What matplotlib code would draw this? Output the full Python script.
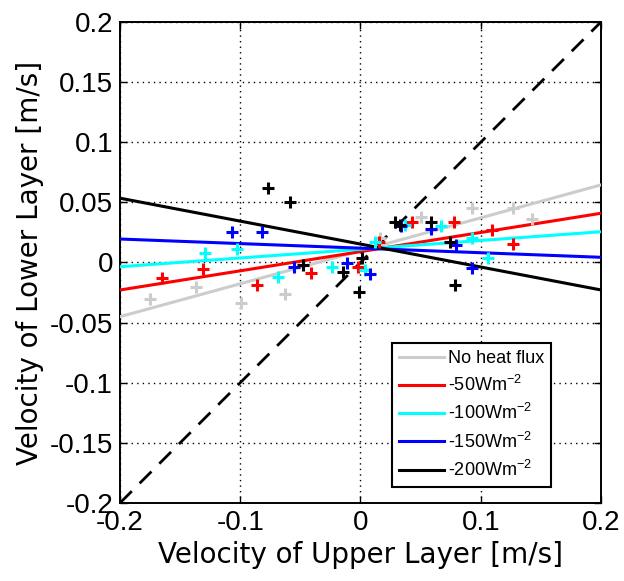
import numpy as np
import matplotlib
matplotlib.use("Agg")
from matplotlib import pyplot as plt

plt.rcParams['axes.unicode_minus'] = False
plt.rcParams['mathtext.default'] = 'regular'

# series names and colours
labels = ["No heat flux", "-50Wm$^{-2}$", "-100Wm$^{-2}$", "-150Wm$^{-2}$", "-200Wm$^{-2}$"]
colors = [(0.8, 0.8, 0.8), (1, 0, 0), (0, 1, 1), (0, 0, 1), (0, 0, 0)]

# measured velocities (upper layer, lower layer) for each run
u_none = [-0.175, -0.137, -0.099, -0.063, 0.016, 0.050, 0.0925, 0.127, 0.143]
v_none = [-0.030, -0.020, -0.034, -0.026, 0.0206, 0.038, 0.045, 0.045, 0.036]

u_50 = [-0.165, -0.131, -0.086, -0.041, -0.002, 0.0156, 0.043, 0.078, 0.109, 0.1266]
v_50 = [-0.013, -0.0054, -0.019, -0.009, -0.0035, 0.0173, 0.0334, 0.034, 0.027, 0.015]

u_100 = [-0.129, -0.103, -0.069, -0.024, 0.0037, 0.012, 0.037, 0.067, 0.0925, 0.106]
v_100 = [0.0076, 0.0112, -0.012, -0.0035, -0.0062, 0.0173, 0.031, 0.030, 0.020, 0.004]

u_150 = [-0.107, -0.082, -0.0556, -0.0115, 0.0079, 0.034, 0.0586, 0.0794, 0.093]
v_150 = [0.0256, 0.0256, -0.004, -0.0007, -0.0096, 0.030, 0.028, 0.0146, -0.0048]

u_200 = [-0.077, -0.059, -0.048, -0.0143, 0.001, -0.0012, 0.029, 0.033, 0.0586, 0.0744, 0.0786]
v_200 = [0.062, 0.050, -0.002, -0.0076, 0.0035, -0.0248, 0.034, 0.031, 0.034, 0.0168, -0.0187]

# linear fits: lower = slope * upper + intercept
slopes = [0.274, 0.1595, 0.0728, -0.038, -0.1908]
intercepts = [0.0097, 0.009, 0.011, 0.0119, 0.0153]

us = [u_none, u_50, u_100, u_150, u_200]
vs = [v_none, v_50, v_100, v_150, v_200]

fig = plt.figure(figsize=(6.24, 5.81), dpi=100)
ax = fig.add_axes([0.1923, 0.1343, 0.7708, 0.8279])

xfit = np.array([-0.2, 0.2])

# fit lines first, markers on top
handles = []
for k in range(len(labels)):
    h, = ax.plot(xfit, slopes[k] * xfit + intercepts[k], color=colors[k], lw=2.2, label=labels[k], zorder=3)
    handles.append(h)
for k in range(len(labels)):
    ax.plot(us[k], vs[k], '+', color=colors[k], ms=8, mew=2.2, zorder=4)

# one to one line
ax.plot(xfit, xfit, '--', color='k', lw=2, dashes=(6, 4), zorder=2)

ax.set_xlim(-0.2, 0.2)
ax.set_ylim(-0.2, 0.2)
ax.set_xticks([-0.2, -0.1, 0, 0.1, 0.2])
ax.set_xticklabels(["-0.2", "-0.1", "0", "0.1", "0.2"])
ax.set_yticks(np.arange(-0.2, 0.201, 0.05))
ax.set_yticklabels(["-0.2", "-0.15", "-0.1", "-0.05", "0", "0.05", "0.1", "0.15", "0.2"])

ax.grid(True, color='k', linestyle=(0, (1, 3)), linewidth=1)
ax.tick_params(direction='in', top=True, right=True, length=5, width=1, labelsize=20, pad=5)
for t in ax.get_xticklabels() + ax.get_yticklabels():
    t.set_family('Liberation Sans')
for s in ax.spines.values():
    s.set_linewidth(1.4)

ax.set_xlabel("Velocity of Upper Layer [m/s]", fontsize=20, family='DejaVu Sans', labelpad=4)
ax.set_ylabel("Velocity of Lower Layer [m/s]", fontsize=20, family='DejaVu Sans', labelpad=4)

leg = ax.legend(handles=handles, loc='lower left', bbox_to_anchor=(0.565, 0.033),
                prop={'family': 'Liberation Sans', 'size': 13}, fancybox=False,
                framealpha=1, edgecolor='k', handlelength=2.5, handletextpad=0.2,
                labelspacing=0.45, borderpad=0.4, borderaxespad=0)
leg.get_frame().set_linewidth(1.5)

fig.savefig("out.png", dpi=100)
